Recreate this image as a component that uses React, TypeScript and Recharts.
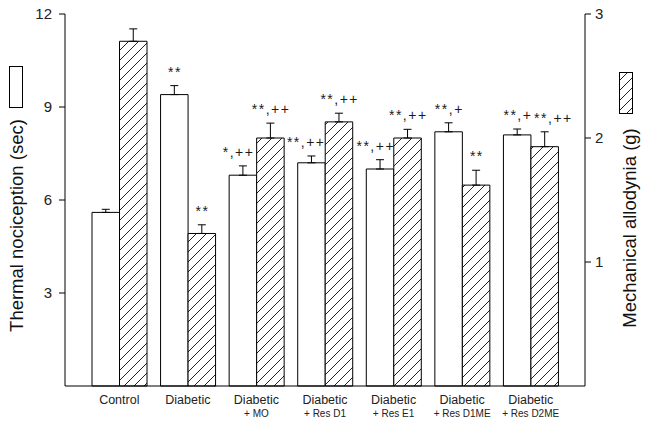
import React from "react";
import { BarChart, Bar, XAxis, YAxis, ErrorBar, LabelList } from "recharts";

const groupIds = ["Control", "Diabetic", "Diabetic + MO", "Diabetic + Res D1", "Diabetic + Res E1", "Diabetic + Res D1ME", "Diabetic + Res D2ME"];
const groupMain = ["Control", "Diabetic", "Diabetic", "Diabetic", "Diabetic", "Diabetic", "Diabetic"];
const groupSub = ["", "", "+ MO", "+ Res D1", "+ Res E1", "+ Res D1ME", "+ Res D2ME"];

const thermal = [5.6, 9.4, 6.8, 7.2, 7.0, 8.2, 8.1];
const thermalErr = [0.1, 0.29, 0.3, 0.22, 0.3, 0.29, 0.19];
const thermalNotes = ["", "**", "*,++", "**,++", "**,++", "**,+", "**,+"];

const mech = [2.78, 1.23, 2.0, 2.13, 2.0, 1.62, 1.93];
const mechErr = [0.1, 0.07, 0.12, 0.07, 0.07, 0.12, 0.12];
const mechNotes = ["", "**", "**,++", "**,++", "**,++", "**", "**,++"];

const leftTicks = [3, 6, 9, 12];
const rightTicks = [1, 2, 3];

const data = groupIds.map((id, i) => ({
  id,
  thermal: thermal[i],
  thermalErr: [0, thermalErr[i]],
  thermalNote: thermalNotes[i],
  mech: mech[i],
  mechErr: [0, mechErr[i]],
  mechNote: mechNotes[i],
}));

const FONT = "'Liberation Sans', Arial, sans-serif";

// small horizontal nudges of the significance marks, to keep them apart (layout only)
const LAYOUT_NOTE_NUDGE: Record<string, number[]> = {
  thermal: [0, 0, -5, -6, -5, 0, 0],
  mech: [0, 0, 0, 0, 0, 0, 8],
};

const makeNote = (valKey: string, errArr: number[]) => (props: any) => {
  const { x, y, width, height, value, index } = props;
  if (!value) return null;
  const v = (data as any)[index][valKey];
  const ppu = Number(height) / v;
  const errTop = Number(y) - errArr[index] * ppu;
  return (
    <text
      x={Number(x) + Number(width) / 2 + LAYOUT_NOTE_NUDGE[valKey][index] + 0.75}
      y={errTop - 9}
      textAnchor="middle"
      fontSize={14}
      letterSpacing={1.5}
      fontFamily={FONT}
      fill="#1a1a1a"
    >
      {value}
    </text>
  );
};

const XTick = (props: any) => {
  const { x, y, payload } = props;
  const i = payload.index;
  return (
    <g>
      <text x={x} y={y + 18} textAnchor="middle" fontSize={12.5} fontFamily={FONT} fill="#222">
        {groupMain[i]}
      </text>
      {groupSub[i] ? (
        <text x={x} y={y + 31} textAnchor="middle" fontSize={10} fontFamily={FONT} fill="#222">
          {groupSub[i]}
        </text>
      ) : null}
    </g>
  );
};

const LeftLabel = () => (
  <text
    x={0}
    y={0}
    transform="translate(23,225.5) rotate(-90)"
    textAnchor="middle"
    fontSize={18.5}
    fontFamily={FONT}
    fill="#111"
  >
    Thermal nociception (sec)
  </text>
);

const RightLabel = () => (
  <text
    x={0}
    y={0}
    transform="translate(636,228) rotate(-90)"
    textAnchor="middle"
    fontSize={18.5}
    fontFamily={FONT}
    fill="#111"
  >
    Mechanical allodynia (g)
  </text>
);

export default function App() {
  return (
    <div style={{ position: "absolute", left: 0, top: 0, width: 645, height: 426, background: "#fff" }}>
      <svg width={0} height={0} style={{ position: "absolute" }}>
        <defs>
          <pattern id="hatch" patternUnits="userSpaceOnUse" width={10} height={10}>
            <rect width={10} height={10} fill="#fff" />
            <path d="M-1,1 l2,-2 M0,10 l10,-10 M9,11 l2,-2" stroke="#222" strokeWidth={1} />
          </pattern>
        </defs>
      </svg>
      <BarChart
        width={645}
        height={426}
        data={data}
        margin={{ top: 14, right: 0, left: 0, bottom: 0 }}
        barGap={0}
        barSize={27.5}
      >
        <XAxis
          dataKey="id"
          height={40}
          padding={{ left: 20, right: 20 }}
          tickLine={false}
          tickSize={0}
          tickMargin={0}
          axisLine={{ stroke: "#000" }}
          tick={<XTick />}
          interval={0}
        />
        <YAxis
          yAxisId="left"
          width={65}
          domain={[0, 12]}
          ticks={leftTicks}
          tickSize={6}
          tickMargin={7}
          axisLine={{ stroke: "#000" }}
          tickLine={{ stroke: "#000" }}
          tick={{ fontSize: 15, fill: "#222", fontFamily: FONT }}
          label={{ content: <LeftLabel /> }}
        />
        <YAxis
          yAxisId="right"
          orientation="right"
          width={60}
          domain={[0, 3]}
          ticks={rightTicks}
          tickSize={6}
          tickMargin={4}
          axisLine={{ stroke: "#000" }}
          tickLine={{ stroke: "#000" }}
          tick={{ fontSize: 15, fill: "#222", fontFamily: FONT, textAnchor: "start" }}
          label={{ content: <RightLabel /> }}
        />
        <Bar yAxisId="left" dataKey="thermal" fill="#fff" stroke="#000" strokeWidth={1} isAnimationActive={false}>
          <ErrorBar dataKey="thermalErr" direction="y" width={4} stroke="#000" strokeWidth={1} />
          <LabelList dataKey="thermalNote" content={makeNote("thermal", thermalErr)} />
        </Bar>
        <Bar yAxisId="right" dataKey="mech" fill="url(#hatch)" stroke="#000" strokeWidth={1} isAnimationActive={false}>
          <ErrorBar dataKey="mechErr" direction="y" width={4} stroke="#000" strokeWidth={1} />
          <LabelList dataKey="mechNote" content={makeNote("mech", mechErr)} />
        </Bar>
      </BarChart>
      <svg width={645} height={426} style={{ position: "absolute", left: 0, top: 0, pointerEvents: "none" }}>
        <rect x={9.5} y={66.5} width={13} height={41} fill="#fff" stroke="#000" strokeWidth={1} />
        <rect x={619.5} y={72.5} width={13} height={41} fill="url(#hatch)" stroke="#000" strokeWidth={1} />
      </svg>
    </div>
  );
}
